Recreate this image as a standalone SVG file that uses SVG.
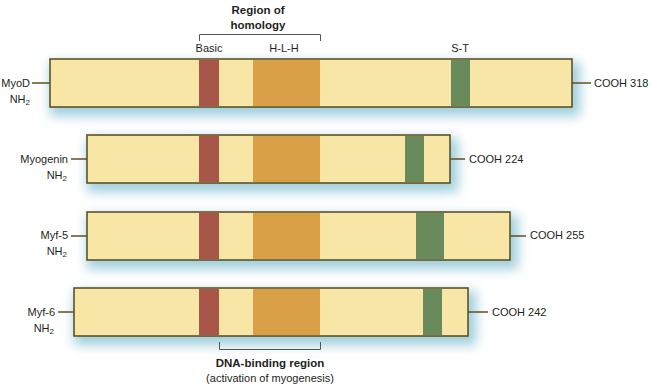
<svg xmlns="http://www.w3.org/2000/svg" width="650" height="386" viewBox="0 0 650 386">
<defs>
<filter id="glow" x="-20%" y="-80%" width="140%" height="260%">
<feGaussianBlur stdDeviation="6"/>
</filter>
<style>
text{font-family:"Liberation Sans",Arial,sans-serif;font-size:11px;fill:#231f20}
.b{font-weight:bold;font-size:11.5px}
.m{text-anchor:middle}
.e{text-anchor:end}
.sh{fill:#9fcedc;filter:url(#glow)}
.bar{fill:#f8e6a6;stroke:#5e5226;stroke-width:1.6}
.red{fill:#a9564a}
.hlh{fill:#daa047}
.grn{fill:#698a5b}
.ln{stroke:#5e5226;stroke-width:1.6;fill:none}
.br{stroke:#555;stroke-width:1;fill:none}
</style>
</defs>
<rect width="650" height="386" fill="#fff"/>

<g id="header">
<text class="b m" x="258" y="14">Region of</text>
<text class="b m" x="258" y="29">homology</text>
<path class="br" d="M199.5,41 V34.5 H320.5 V41"/>
<text class="m" x="209" y="52">Basic</text>
<text class="m" x="284" y="52">H-L-H</text>
<text class="m" x="460" y="52">S-T</text>
</g>

<g id="myod">
<rect class="sh" x="50" y="62" width="530" height="54"/>
<rect class="bar" x="50" y="59" width="522" height="48"/>
<rect class="red" x="199" y="60" width="20" height="46"/>
<rect class="hlh" x="253" y="60" width="67" height="46"/>
<rect class="grn" x="451" y="60" width="19" height="46"/>
<text class="e" x="30" y="87">MyoD</text>
<text class="e" x="30" y="103">NH<tspan font-size="8" dy="2">2</tspan></text>
<text x="594" y="87">COOH 318</text>
</g>

<g id="myogenin">
<rect class="sh" x="87" y="138" width="371" height="54"/>
<rect class="bar" x="87" y="135" width="363" height="48"/>
<rect class="red" x="199" y="136" width="20" height="46"/>
<rect class="hlh" x="253" y="136" width="67" height="46"/>
<rect class="grn" x="405" y="136" width="19" height="46"/>
<text class="e" x="68" y="163">Myogenin</text>
<text class="e" x="67" y="179">NH<tspan font-size="8" dy="2">2</tspan></text>
<text x="469" y="163">COOH 224</text>
</g>

<g id="myf5">
<rect class="sh" x="87" y="215" width="431" height="54"/>
<rect class="bar" x="87" y="212" width="423" height="48"/>
<rect class="red" x="199" y="213" width="20" height="46"/>
<rect class="hlh" x="253" y="213" width="67" height="46"/>
<rect class="grn" x="416" y="213" width="28" height="46"/>
<text class="e" x="68" y="239">Myf-5</text>
<text class="e" x="67" y="255">NH<tspan font-size="8" dy="2">2</tspan></text>
<text x="530" y="239">COOH 255</text>
</g>

<g id="myf6">
<rect class="sh" x="74" y="291" width="402" height="54"/>
<rect class="bar" x="74" y="288" width="394" height="48"/>
<rect class="red" x="199" y="289" width="20" height="46"/>
<rect class="hlh" x="253" y="289" width="67" height="46"/>
<rect class="grn" x="423" y="289" width="19" height="46"/>
<text class="e" x="55" y="316">Myf-6</text>
<text class="e" x="54" y="332">NH<tspan font-size="8" dy="2">2</tspan></text>
<text x="492" y="316">COOH 242</text>
</g>

<g id="connectors">
<path class="ln" d="M32,83 H50 M572,83 H591"/>
<path class="ln" d="M71,159 H87 M450,159 H465"/>
<path class="ln" d="M71,236 H87 M510,236 H526"/>
<path class="ln" d="M58,312 H74 M468,312 H488"/>
</g>

<g id="footer">
<path class="br" d="M219.5,342 V349.5 H320.5 V342"/>
<text class="b m" x="270" y="367">DNA-binding region</text>
<text class="m" x="270" y="382">(activation of myogenesis)</text>
</g>
</svg>
